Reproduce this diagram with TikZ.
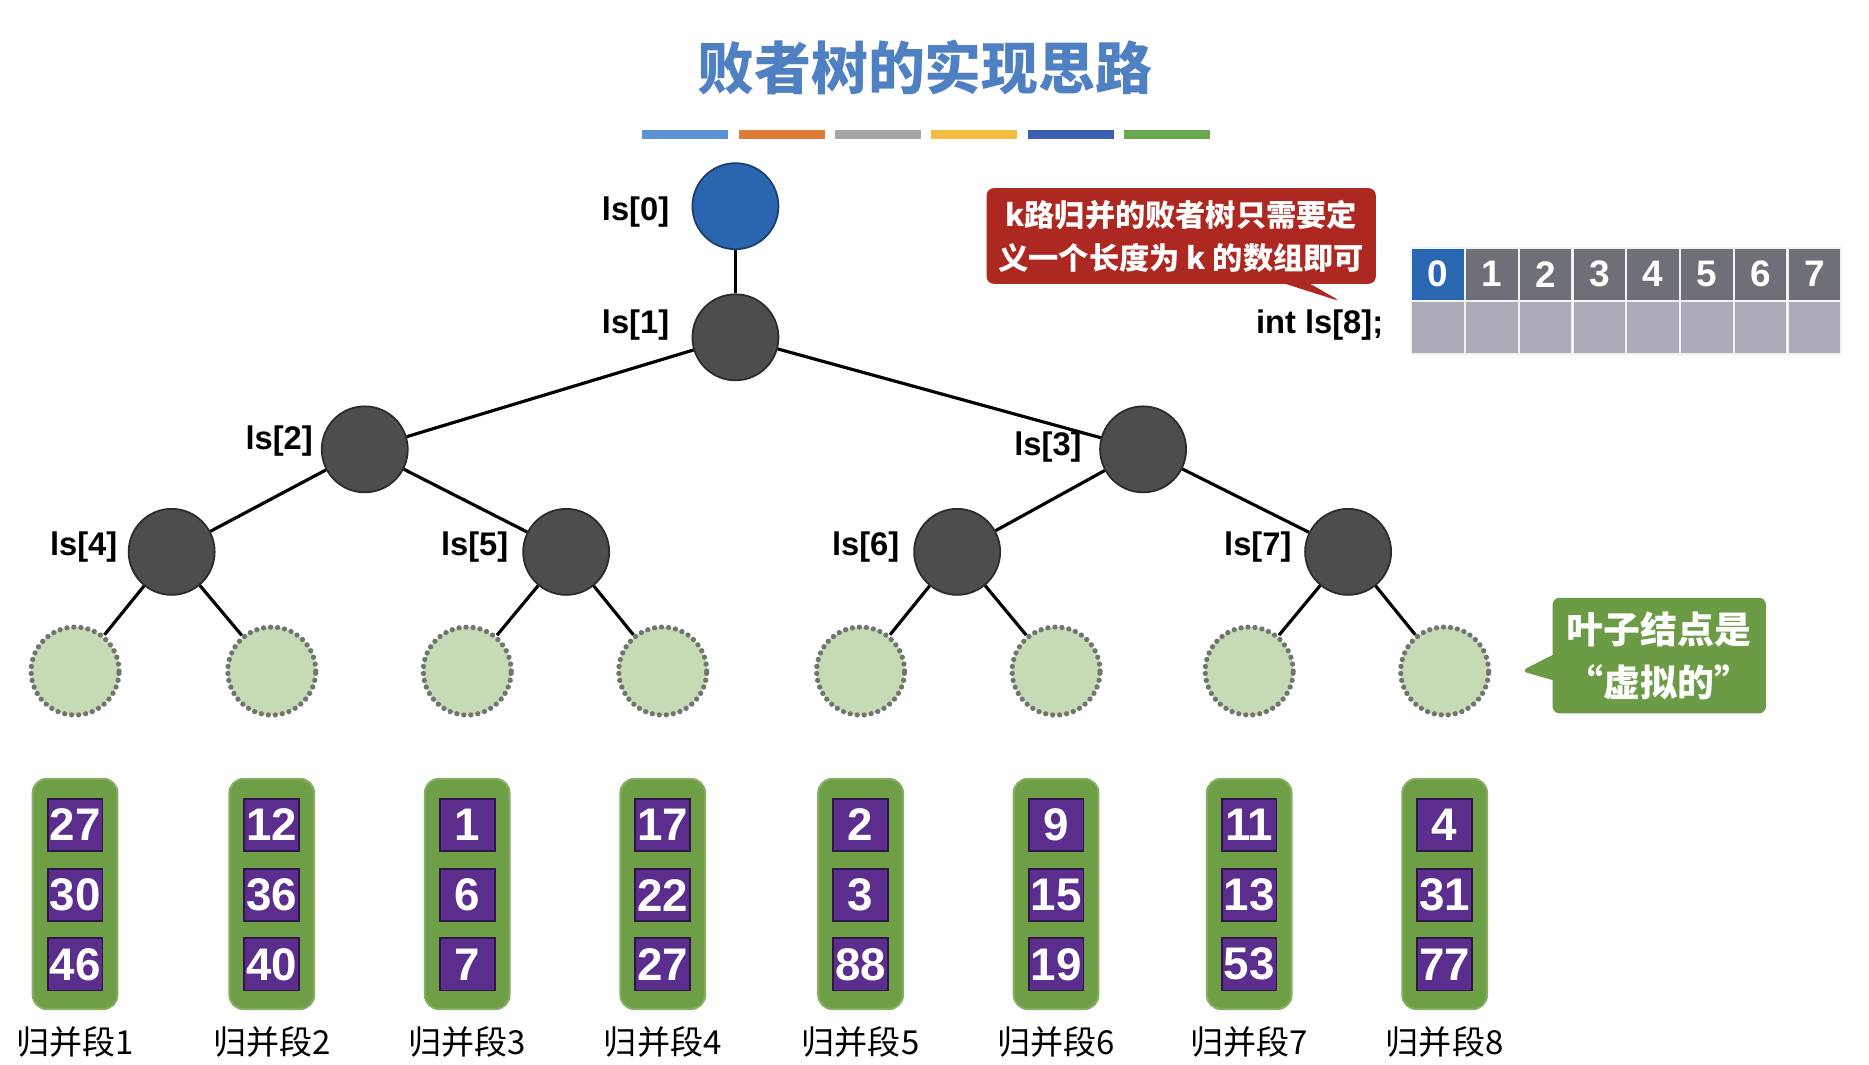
\documentclass[tikz,border=0pt]{standalone}
\usepackage{fontspec}
\setmainfont{Liberation Sans}
\newfontfamily\cjk{Noto Sans CJK SC}
\usetikzlibrary{shapes.callouts}
\definecolor{titleblue}{HTML}{4F80C2}
\definecolor{rootblue}{HTML}{2A66B0}
\definecolor{rootedge}{HTML}{1E3E6A}
\definecolor{nodegray}{HTML}{4D4D4F}
\definecolor{nodeedge}{HTML}{2B2B2B}
\definecolor{leafgreen}{HTML}{C6DAB6}
\definecolor{leafedge}{HTML}{707570}
\definecolor{callred}{HTML}{AE2822}
\definecolor{callgreen}{HTML}{6B9B45}
\definecolor{rungreen}{HTML}{6E9E45}
\definecolor{runpurple}{HTML}{5B2D8C}
\definecolor{cellblue}{HTML}{2A67B3}
\definecolor{cellgray}{HTML}{6D7077}
\definecolor{celllight}{HTML}{AAABB6}
\definecolor{barA}{HTML}{5B92D4}
\definecolor{barB}{HTML}{DF7A35}
\definecolor{barC}{HTML}{A6A6A6}
\definecolor{barD}{HTML}{F3BD3F}
\definecolor{barE}{HTML}{3B5FAE}
\definecolor{barF}{HTML}{6AA84F}
\tikzset{
  rootnode/.style={circle, minimum size=0.86cm, fill=rootblue, draw=rootedge, line width=0.5pt},
  innernode/.style={circle, minimum size=0.86cm, fill=nodegray, draw=nodeedge, line width=0.5pt},
  leafnode/.style={circle, minimum size=0.88cm, fill=leafgreen, draw=leafedge, line width=1.5pt, line cap=round, dash pattern=on 0pt off 2pt},
  idxlabel/.style={anchor=east, inner sep=0pt, font=\fontsize{9.3}{11}\selectfont\bfseries},
  treeedge/.style={line width=0.9pt},
  runbox/.style={rectangle, rounded corners=4pt, fill=rungreen, draw=rungreen!85!white, line width=0.6pt, minimum width=0.846cm, minimum height=2.30cm},
  keybox/.style={rectangle, fill=runpurple, draw=runpurple!50!black, line width=0.5pt, minimum width=0.548cm, minimum height=0.524cm, inner sep=0pt, text=white, font=\fontsize{13}{15}\selectfont\bfseries},
  runlabel/.style={inner sep=0pt, font=\cjk\fontsize{9.4}{11}\selectfont},
  cellbox/.style={rectangle, draw=white!90!gray, line width=0.6pt, minimum width=0.5376cm, minimum height=0.53cm, inner sep=0pt, text=white, font=\fontsize{10.5}{12}\selectfont\bfseries},
}

\begin{document}
\begin{tikzpicture}[x=0.01192cm, y=-0.01192cm]
\useasboundingbox (0,0) rectangle (1568,893);
% title and colour strip
\node[text=titleblue, font=\cjk\bfseries\fontsize{16.2}{19}\selectfont] (title) at (776,57) {败者树的实现思路};
\foreach \c [count=\i from 0] in {barA,barB,barC,barD,barE,barF}
  \fill[\c] (539+\i*80.8,109) rectangle ++(72,8);

% tree nodes
\node[rootnode] (n0) at (617,173) {};
\node[innernode] (n1) at (617,283) {};
\node[innernode] (n2) at (306,377) {};
\node[innernode] (n3) at (959,377) {};
\node[innernode] (n4) at (144,463) {};
\node[innernode] (n5) at (475,463) {};
\node[innernode] (n6) at (803,463) {};
\node[innernode] (n7) at (1131,463) {};
\foreach \x [count=\k] in {63,228,392,556,722,886,1048,1212}
  \node[leafnode] (l\k) at (\x,563) {};

% labels of the array slots
\node[idxlabel] (t0) at (562,178) {ls[0]};
\node[idxlabel] (t1) at (562,273) {ls[1]};
\node[idxlabel] (t2) at (263,370) {ls[2]};
\node[idxlabel] (t3) at (908,375) {ls[3]};
\node[idxlabel] (t4) at (99,459) {ls[4]};
\node[idxlabel] (t5) at (427,459) {ls[5]};
\node[idxlabel] (t6) at (755,459) {ls[6]};
\node[idxlabel] (t7) at (1084,459) {ls[7]};

\foreach \a/\b in {n0/n1,n1/n2,n1/n3,n2/n4,n2/n5,n3/n6,n3/n7,n4/l1,n4/l2,n5/l3,n5/l4,n6/l5,n6/l6,n7/l7,n7/l8}
  \draw[treeedge] (\a) -- (\b);

% callouts
\node[rectangle callout, callout absolute pointer={(1125,253)}, fill=callred, rounded corners=2pt,
  minimum width=3.78cm, minimum height=0.954cm, text=white, align=center,
  font=\cjk\bfseries\fontsize{8.6}{12.2}\selectfont] (note) at (991,198)
  {k路归并的败者树只需要定\\义一个长度为 k 的数组即可};
\node[rectangle callout, callout absolute pointer={(1276,563)}, fill=callgreen, rounded corners=2pt,
  minimum width=2.134cm, minimum height=1.156cm, text=white, align=center,
  font=\cjk\bfseries\fontsize{10.5}{15}\selectfont] (virt) at (1392,550)
  {叶子结点是\\“虚拟的”};

% the array
\node[idxlabel] (decl) at (1161,273) {int ls[8];};
\foreach \i in {0,...,7} {
  \ifnum\i=0 \def\cellfill{cellblue}\else \def\cellfill{cellgray}\fi
  \node[cellbox, fill=\cellfill] (c\i) at (1206.5+\i*45.1,230) {\i};
  \node[cellbox, fill=celllight] (d\i) at (1206.5+\i*45.1,274.5) {};
}

% merge runs
\foreach \x/\p/\q/\r [count=\k] in {63/27/30/46,228/12/36/40,392/1/6/7,556/17/22/27,722/2/3/88,886/9/15/19,1048/11/13/53,1212/4/31/77} {
  \node[runbox] (r\k) at (\x,750) {};
  \node[keybox] (r\k a) at (\x,692) {\p};
  \node[keybox] (r\k b) at (\x,751) {\q};
  \node[keybox] (r\k c) at (\x,809) {\r};
  \node[runlabel] (s\k) at (\x,874) {归并段\k};
}
\end{tikzpicture}
\end{document}
